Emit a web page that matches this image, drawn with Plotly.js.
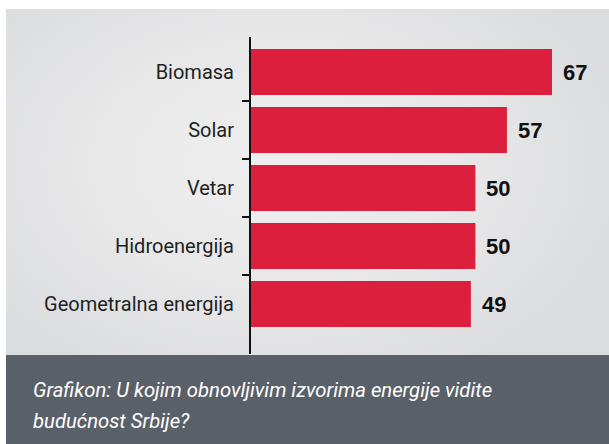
<!DOCTYPE html>
<html>
<head>
<meta charset="utf-8">
<script src="https://cdn.plot.ly/plotly-3.0.1.min.js"></script>
<style>
  html, body { margin: 0; padding: 0; background: #ffffff; }
  #wrap { position: relative; width: 609px; height: 444px; overflow: hidden; background: #ffffff; }
  #bg { position: absolute; left: 6px; top: 9px; width: 603px; height: 346px;
        background: radial-gradient(ellipse 60% 70% at 45% 45%, #efefef 0%, #e8e8e9 50%, #dbdcde 100%); }
  #foot { position: absolute; left: 6px; top: 355px; width: 603px; height: 89px; background: #5a6068; }
  #chart { position: absolute; left: 0; top: 0; width: 609px; height: 444px; }
</style>
</head>
<body>
<div id="wrap">
  <div id="bg"></div>
  <div id="foot"></div>
  <div id="chart"></div>
</div>
<script>
const categories = ["Biomasa", "Solar", "Vetar", "Hidroenergija", "Geometralna energija"];
const values = [67, 57, 50, 50, 49];
const valueLabels = ["67", "57", "50", "50", "49"];
const captionLines = ["Grafikon: U kojim obnovljivim izvorima energije vidite", "budućnost Srbije?"];

const W = 609, H = 444;
const plotL = 250, plotR = 600, plotT = 43, plotB = 333;
const pw = plotR - plotL, ph = plotB - plotT;
const px = x => (x - plotL) / pw;
const py = y => (plotB - y) / ph;
const n = categories.length;

const trace = {
  type: "bar",
  orientation: "h",
  y: categories,
  x: values,
  marker: { color: "#db1f3d" },
  hoverinfo: "none"
};

const annotations = categories.map((c, i) => ({
  x: values[i], y: c, xref: "x", yref: "y",
  text: valueLabels[i], showarrow: false,
  xanchor: "left", yanchor: "middle", xshift: 9,
  font: { family: "Liberation Sans, Arial, sans-serif", size: 22, color: "#111111", weight: "bold" }
}));

const captionY = [390, 421];
captionLines.forEach((t, i) => {
  annotations.push({
    x: px(31), y: py(captionY[i]), xref: "paper", yref: "paper",
    text: "<i>" + t + "</i>", showarrow: false,
    xanchor: "left", yanchor: "middle",
    font: { family: "Roboto, sans-serif", size: 20.3, color: "#ffffff" }
  });
});

// axis line plus separator ticks between neighbouring categories, as one path in paper units
let axisPath = "M0," + py(37) + " L0," + py(354);
const tickX = px(plotL - 8);
for (let i = 1; i < n; i++) {
  const yb = 1 - i / n;
  axisPath += " M" + tickX + "," + yb + " L0," + yb;
}

const layout = {
  width: W, height: H,
  margin: { l: plotL, r: W - plotR, t: plotT, b: H - plotB, pad: 0 },
  paper_bgcolor: "rgba(0,0,0,0)",
  plot_bgcolor: "rgba(0,0,0,0)",
  bargap: 0.207,
  showlegend: false,
  xaxis: {
    range: [0, 77.65], visible: false, fixedrange: true
  },
  yaxis: {
    type: "category",
    range: [n - 0.5, -0.5],
    ticks: "",
    showline: false, showgrid: false, zeroline: false,
    ticklabelstandoff: 15,
    tickfont: { family: "Roboto, sans-serif", size: 20, color: "#222222" }
  },
  shapes: [{
    type: "path", xref: "paper", yref: "paper",
    path: axisPath,
    line: { color: "#111111", width: 2 }
  }],
  annotations: annotations
};

Plotly.newPlot("chart", [trace], layout, { displayModeBar: false, staticPlot: true });
</script>
</body>
</html>
